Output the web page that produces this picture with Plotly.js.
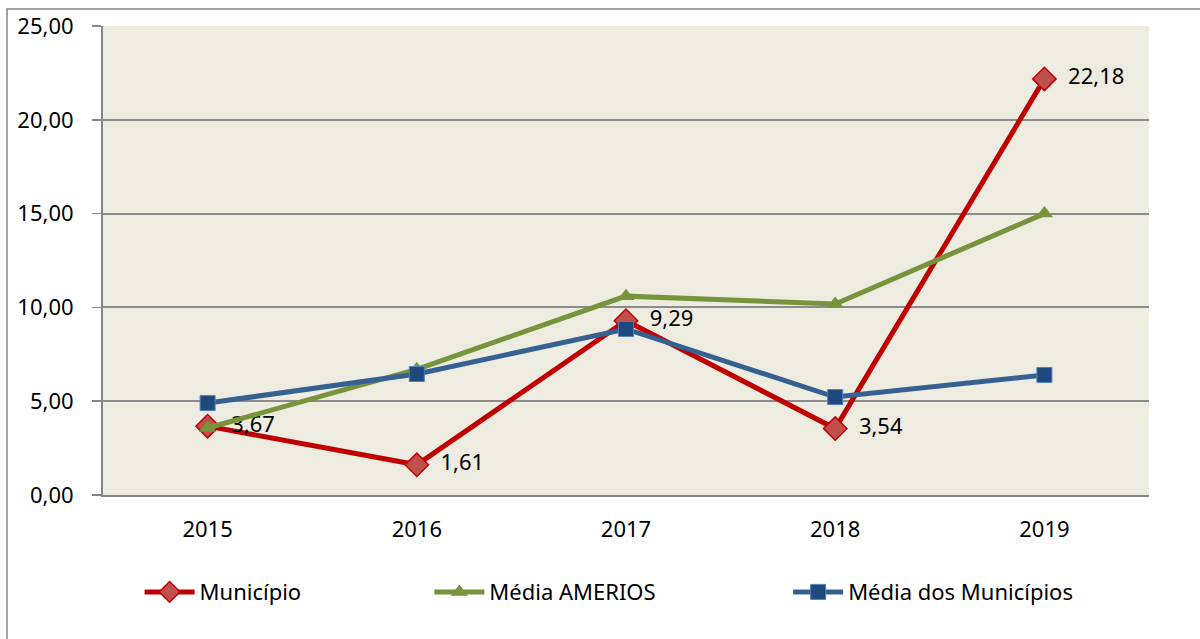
<!DOCTYPE html>
<html>
<head>
<meta charset="utf-8">
<script src="https://cdn.plot.ly/plotly-3.0.1.min.js"></script>
<style>
  html, body { margin: 0; padding: 0; background: #fff; }
  #chart { width: 1200px; height: 639px; }
</style>
</head>
<body>
<div id="chart"></div>
<script>
const years = ["2015", "2016", "2017", "2018", "2019"];
const municipio = [3.67, 1.61, 9.29, 3.54, 22.18];
const mediaAmerios = [3.57, 6.70, 10.60, 10.18, 15.00];
const mediaMunicipios = [4.90, 6.45, 8.85, 5.22, 6.40];

const fontFamily = "Noto Sans, Open Sans, sans-serif";
const fontSize = 22;

// rótulos com vírgula decimal, afastados do marcador
function fmt(v) {
    return "\u00A0\u00A0" + v.toFixed(2).replace(".", ",");
}

const tMunicipio = {
    x: years, y: municipio,
    name: "Município",
    type: "scatter",
    mode: "lines+markers+text",
    text: municipio.map(fmt),
    textposition: "middle right",
    textfont: {family: fontFamily, size: fontSize, color: "#000"},
    line: {color: "#C00000", width: 5},
    marker: {symbol: "diamond", size: 18, color: "#C0504D", line: {color: "#C00000", width: 1.5}},
    legend: "legend",
    cliponaxis: false
};

const tAmerios = {
    x: years, y: mediaAmerios,
    name: "Média AMERIOS",
    type: "scatter",
    mode: "lines+markers",
    line: {color: "#77933C", width: 5},
    marker: {symbol: "triangle-up", size: 15, color: "#77933C"},
    legend: "legend2",
    cliponaxis: false
};

const tMunicipios = {
    x: years, y: mediaMunicipios,
    name: "Média dos Municípios",
    type: "scatter",
    mode: "lines+markers",
    line: {color: "#376092", width: 5},
    marker: {symbol: "square", size: 15, color: "#1F497D", line: {color: "#4F81BD", width: 1}},
    legend: "legend3",
    cliponaxis: false
};

const legendBase = {
    orientation: "h",
    yanchor: "middle",
    y: -0.207,
    xanchor: "left",
    itemwidth: 50,
    font: {family: fontFamily, size: fontSize, color: "#000"},
    bgcolor: "rgba(0,0,0,0)"
};

const layout = {
    width: 1200,
    height: 639,
    margin: {l: 103, r: 51, t: 26, b: 144},
    paper_bgcolor: "#ffffff",
    plot_bgcolor: "#EEECE1",
    separators: ",.",
    font: {family: fontFamily, size: fontSize, color: "#000"},
    showlegend: true,
    xaxis: {
        type: "category",
        range: [-0.5, 4.5],
        showgrid: false,
        showline: true,
        linecolor: "#868686",
        linewidth: 2,
        ticks: "",
        ticklabelstandoff: 14,
        tickfont: {family: fontFamily, size: fontSize, color: "#000"},
        zeroline: false,
        fixedrange: true
    },
    yaxis: {
        range: [0, 25],
        dtick: 5,
        tickformat: ".2f",
        showgrid: true,
        gridcolor: "#8C8C8C",
        gridwidth: 2,
        showline: true,
        linecolor: "#868686",
        linewidth: 2,
        ticks: "outside",
        ticklen: 9,
        tickwidth: 1.5,
        tickcolor: "#868686",
        ticklabelstandoff: 14,
        tickfont: {family: fontFamily, size: fontSize, color: "#000"},
        zeroline: false,
        fixedrange: true
    },
    legend: Object.assign({}, legendBase, {x: 0.035}),
    legend2: Object.assign({}, legendBase, {x: 0.312}),
    legend3: Object.assign({}, legendBase, {x: 0.655}),
    shapes: [{
        type: "rect",
        xref: "paper", yref: "paper",
        x0: -0.0918, x1: 1.2,
        y0: -0.5, y1: 1.0362,
        line: {color: "#868686", width: 1.5},
        fillcolor: "rgba(0,0,0,0)",
        layer: "below"
    }]
};

Plotly.newPlot("chart", [tMunicipio, tAmerios, tMunicipios], layout, {displayModeBar: false, staticPlot: true});
</script>
</body>
</html>
